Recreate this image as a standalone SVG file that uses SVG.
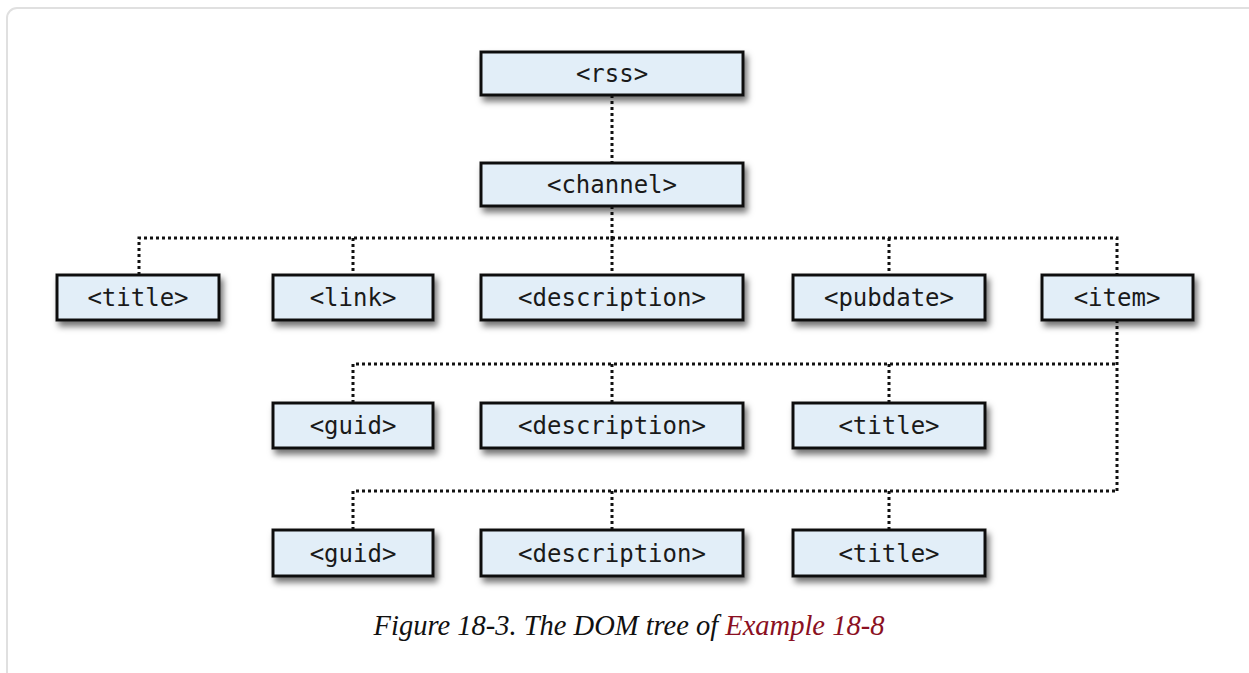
<svg xmlns="http://www.w3.org/2000/svg" width="1249" height="673" viewBox="0 0 1249 673">
<defs>
<filter id="sh" x="-10%" y="-30%" width="130%" height="180%">
<feDropShadow dx="3" dy="5" stdDeviation="3" flood-color="#000" flood-opacity="0.55"/>
</filter>
<style>
.box{fill:#e2eef8;stroke:#111;stroke-width:3;filter:url(#sh)}
.lbl{font-family:"DejaVu Sans Mono","Liberation Mono",monospace;font-size:24px;fill:#1a1a1a;text-anchor:middle}
.con{fill:none;stroke:#111;stroke-width:3;stroke-dasharray:3 3}
.cap{font-family:"Liberation Serif",serif;font-style:italic;font-size:28.5px;fill:#111}
</style>
</defs>
<rect width="1249" height="673" fill="#fff"/>
<rect x="7" y="8" width="1260" height="690" rx="10" fill="none" stroke="#e0e0e0" stroke-width="2"/>
<g id="connectors">
<path class="con" d="M612 95 V163"/>
<path class="con" d="M612 206 V238"/>
<path class="con" d="M139 275 V238 H1117 V275"/>
<path class="con" d="M353 238 V275"/>
<path class="con" d="M612 238 V275"/>
<path class="con" d="M889 238 V275"/>
<path class="con" d="M1117 320 V491"/>
<path class="con" d="M353 403 V364 H1117"/>
<path class="con" d="M612 364 V403"/>
<path class="con" d="M889 364 V403"/>
<path class="con" d="M353 530 V491 H1117"/>
<path class="con" d="M612 491 V530"/>
<path class="con" d="M889 491 V530"/>
</g>
<g id="rss"><rect class="box" x="481" y="52" width="262" height="43"/><text class="lbl" x="612" y="82">&lt;rss&gt;</text></g>
<g id="channel"><rect class="box" x="481" y="163" width="262" height="43"/><text class="lbl" x="612" y="193">&lt;channel&gt;</text></g>
<g id="title1"><rect class="box" x="57" y="275" width="162" height="45"/><text class="lbl" x="138" y="306">&lt;title&gt;</text></g>
<g id="link"><rect class="box" x="273" y="275" width="160" height="45"/><text class="lbl" x="353" y="306">&lt;link&gt;</text></g>
<g id="description1"><rect class="box" x="481" y="275" width="262" height="45"/><text class="lbl" x="612" y="306">&lt;description&gt;</text></g>
<g id="pubdate"><rect class="box" x="793" y="275" width="192" height="45"/><text class="lbl" x="889" y="306">&lt;pubdate&gt;</text></g>
<g id="item"><rect class="box" x="1042" y="275" width="151" height="45"/><text class="lbl" x="1117" y="306">&lt;item&gt;</text></g>
<g id="guid2"><rect class="box" x="273" y="403" width="160" height="45"/><text class="lbl" x="353" y="434">&lt;guid&gt;</text></g>
<g id="description2"><rect class="box" x="481" y="403" width="262" height="45"/><text class="lbl" x="612" y="434">&lt;description&gt;</text></g>
<g id="title2"><rect class="box" x="793" y="403" width="192" height="45"/><text class="lbl" x="889" y="434">&lt;title&gt;</text></g>
<g id="guid3"><rect class="box" x="273" y="530" width="160" height="46"/><text class="lbl" x="353" y="562">&lt;guid&gt;</text></g>
<g id="description3"><rect class="box" x="481" y="530" width="262" height="46"/><text class="lbl" x="612" y="562">&lt;description&gt;</text></g>
<g id="title3"><rect class="box" x="793" y="530" width="192" height="46"/><text class="lbl" x="889" y="562">&lt;title&gt;</text></g>
<text class="cap" x="629" y="635" text-anchor="middle">Figure 18-3. The DOM tree of <tspan fill="#8b1022">Example 18-8</tspan></text>
</svg>
